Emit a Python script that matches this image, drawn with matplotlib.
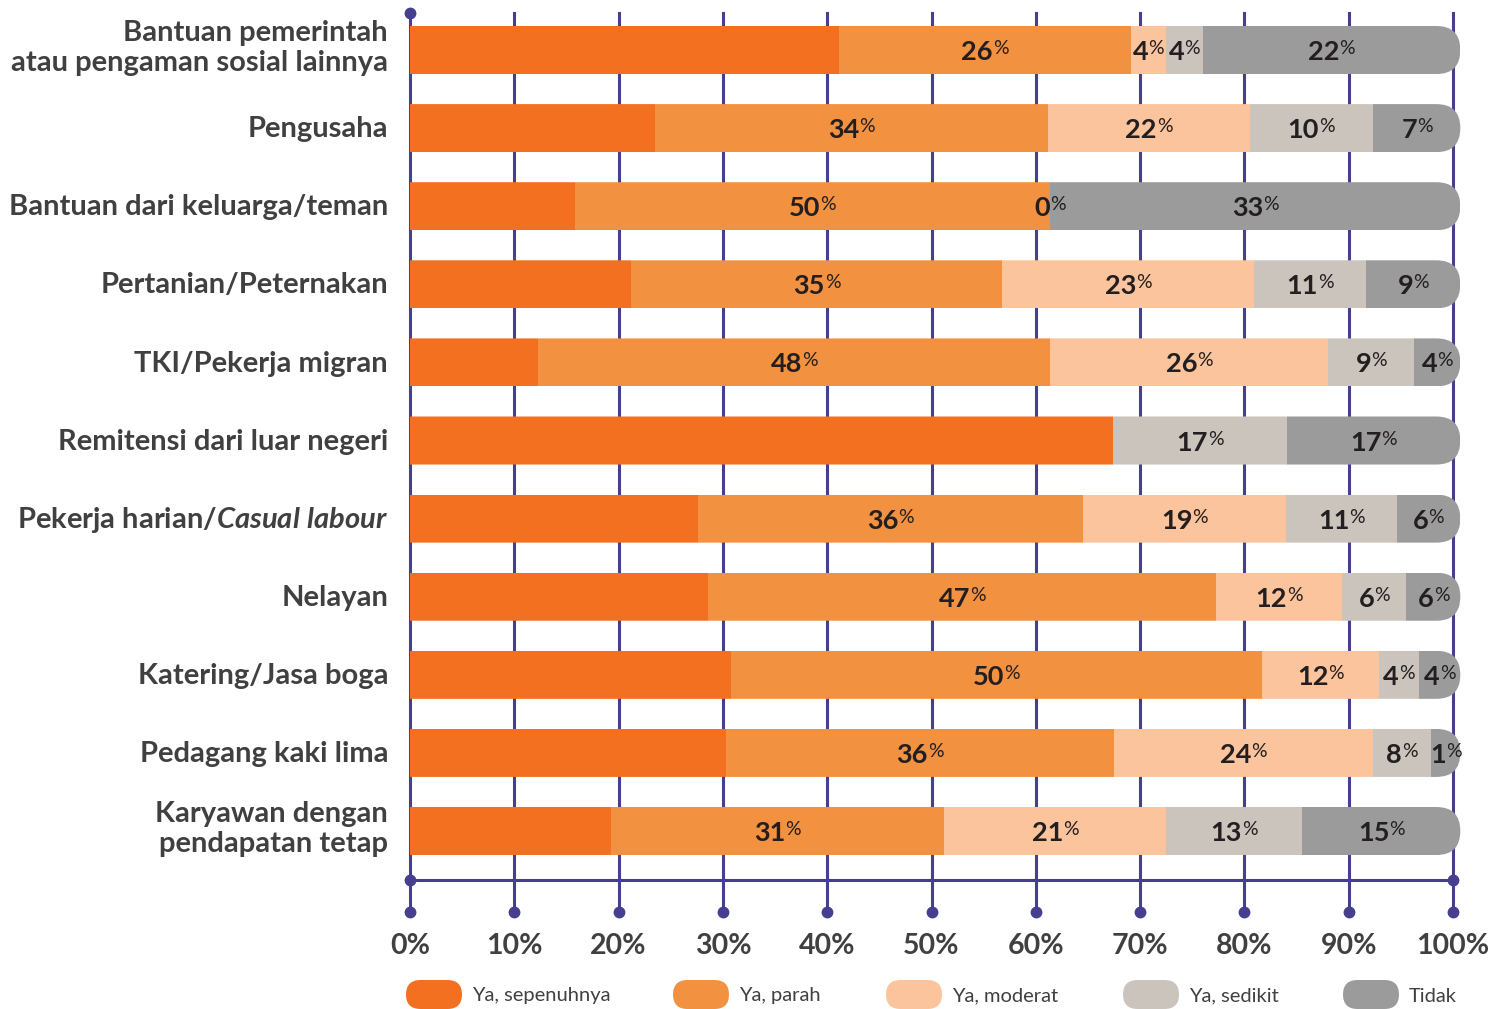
import matplotlib
matplotlib.use("Agg")
import matplotlib.pyplot as plt
from matplotlib.patches import FancyBboxPatch
from matplotlib.transforms import offset_copy
import numpy as np

plt.rcParams['font.family'] = ['Lato', 'DejaVu Sans']
plt.rcParams['mathtext.fontset'] = 'custom'
plt.rcParams['mathtext.rm'] = 'Lato:bold'
plt.rcParams['mathtext.it'] = 'Lato:italic:bold'
plt.rcParams['mathtext.bf'] = 'Lato:bold'

categories = [
    "Bantuan pemerintah\natau pengaman sosial lainnya",
    "Pengusaha",
    "Bantuan dari keluarga/teman",
    "Pertanian/Peternakan",
    "TKI/Pekerja migran",
    "Remitensi dari luar negeri",
    r"Pekerja harian/$\mathit{Casual\ labour}$",
    "Nelayan",
    "Katering/Jasa boga",
    "Pedagang kaki lima",
    "Karyawan dengan\npendapatan tetap",
]
series = ["Ya, sepenuhnya", "Ya, parah", "Ya, moderat", "Ya, sedikit", "Tidak"]
colors = ["#f37021", "#f29140", "#fbc49c", "#cac4bd", "#9b9b9b"]

# segment widths as drawn (%)
sepenuhnya = [41.1, 23.5, 15.8, 21.2, 12.3, 67.4, 27.6, 28.6, 30.8, 30.3, 19.3]
parah      = [28.0, 37.7, 45.6, 35.6, 49.1, 0.0, 36.9, 48.7, 50.9, 37.2, 31.9]
moderat    = [3.4, 19.3, 0.0, 24.1, 26.6, 0.0, 19.5, 12.1, 11.2, 24.8, 21.3]
sedikit    = [3.5, 11.8, 0.0, 10.8, 8.3, 16.7, 10.6, 6.1, 3.8, 5.6, 13.0]
tidak      = [24.0, 7.8, 38.6, 8.3, 3.7, 15.9, 5.4, 4.6, 3.4, 2.1, 14.6]

# printed labels (as shown on the chart)
lbl_sepenuhnya = ["", "", "", "", "", "", "", "", "", "", ""]
lbl_parah      = ["26", "34", "50", "35", "48", "", "36", "47", "50", "36", "31"]
lbl_moderat    = ["4", "22", "0", "23", "26", "", "19", "12", "12", "24", "21"]
lbl_sedikit    = ["4", "10", "", "11", "9", "17", "11", "6", "4", "8", "13"]
lbl_tidak      = ["22", "7", "33", "9", "4", "17", "6", "6", "4", "1", "15"]

xticks = [0, 10, 20, 30, 40, 50, 60, 70, 80, 90, 100]

values = [sepenuhnya, parah, moderat, sedikit, tidak]
labels = [lbl_sepenuhnya, lbl_parah, lbl_moderat, lbl_sedikit, lbl_tidak]

grid_c = "#463f8f"
overhang = 0.7

fig = plt.figure(figsize=(15.04, 10.09), dpi=100)
ax = fig.add_axes([410/1504, 1-912/1009, 1043/1504, 899/1009])
ax.set_xlim(0, 100)
ax.set_ylim(11.037, -0.474)
for s in ax.spines.values():
    s.set_visible(False)
renderer = fig.canvas.get_renderer()

# grid
for t in xticks:
    ax.plot([t, t], [-0.474, 11.037], color=grid_c, lw=2.2, zorder=1, clip_on=False)
    ax.plot(t, 11.037, 'o', color=grid_c, ms=7.5, zorder=1, clip_on=False)
ax.plot(0, -0.474, 'o', color=grid_c, ms=7.5, zorder=1, clip_on=False)
ax.plot([0, 100], [10.627, 10.627], color=grid_c, lw=2.2, zorder=1, clip_on=False)
ax.plot([0, 100], [10.627, 10.627], 'o', color=grid_c, ms=7.5, zorder=1, clip_on=False)


def pct_label(xc, yc, num):
    t1 = ax.text(xc, yc, num, ha='left', va='baseline', fontsize=19.5,
                 fontweight='bold', color='#231f20', zorder=3)
    t2 = ax.text(xc, yc, "%", ha='left', va='baseline', fontsize=14,
                 color='#231f20', zorder=3)
    w1 = t1.get_window_extent(renderer).width
    w2 = t2.get_window_extent(renderer).width
    tot = w1 + w2
    t1.set_transform(offset_copy(ax.transData, fig, x=-tot/2, y=-10, units='dots'))
    t2.set_transform(offset_copy(ax.transData, fig, x=-tot/2 + w1, y=-4, units='dots'))


bh = 0.615
r_x = 24 / 10.43
r_y = 24 / 78.1
n = len(categories)
y = np.arange(n)
left = np.zeros(n)
for k in range(5):
    w = np.array(values[k], dtype=float)
    for i in range(n):
        # last non-zero segment gets the rounded overhang
        last = all(values[j][i] == 0 for j in range(k + 1, 5))
        wd = w[i] + (overhang if last else 0)
        if wd > 0:
            rect = ax.barh(y[i], wd, left=left[i], height=bh, color=colors[k],
                           edgecolor='none', zorder=2)[0]
            clip = FancyBboxPatch((-5, y[i] - bh/2), 105 + overhang, bh,
                                  boxstyle=f"round,pad=0,rounding_size={r_x}",
                                  mutation_aspect=r_y / r_x,
                                  transform=ax.transData, facecolor='none',
                                  edgecolor='none')
            rect.set_clip_path(clip)
            rect.set_clip_box(None)
        if labels[k][i] != "":
            pct_label(left[i] + wd / 2, y[i], labels[k][i])
    left = left + w

# category labels
ax.set_yticks([])
for i, c in enumerate(categories):
    dy = -0.03 if "\n" in c else 0.015
    ax.text(-22 / 10.43, y[i] + dy, c, ha='right', va='center', fontsize=21,
            fontweight='bold', color='#404040', linespacing=1.2)

ax.set_xticks(xticks)
ax.set_xticklabels([f"{t}%" for t in xticks], fontsize=20.5, fontweight='bold',
                   color='#404040')
ax.tick_params(axis='x', length=0, pad=15)

# legend
leg_x = [406, 673, 886, 1123, 1343]
for k in range(5):
    x0 = leg_x[k] / 1504
    pill = FancyBboxPatch((x0, 0), 56/1504, 29/1009,
                          boxstyle="round,pad=0,rounding_size=0.0097",
                          mutation_aspect=1504/1009,
                          transform=fig.transFigure, facecolor=colors[k],
                          edgecolor='none')
    fig.patches.append(pill)
    fig.text(x0 + 66/1504, 1 - 996/1009, series[k], ha='left', va='center',
             fontsize=14.5, color='#404040')

fig.savefig("out.png", dpi=100)
